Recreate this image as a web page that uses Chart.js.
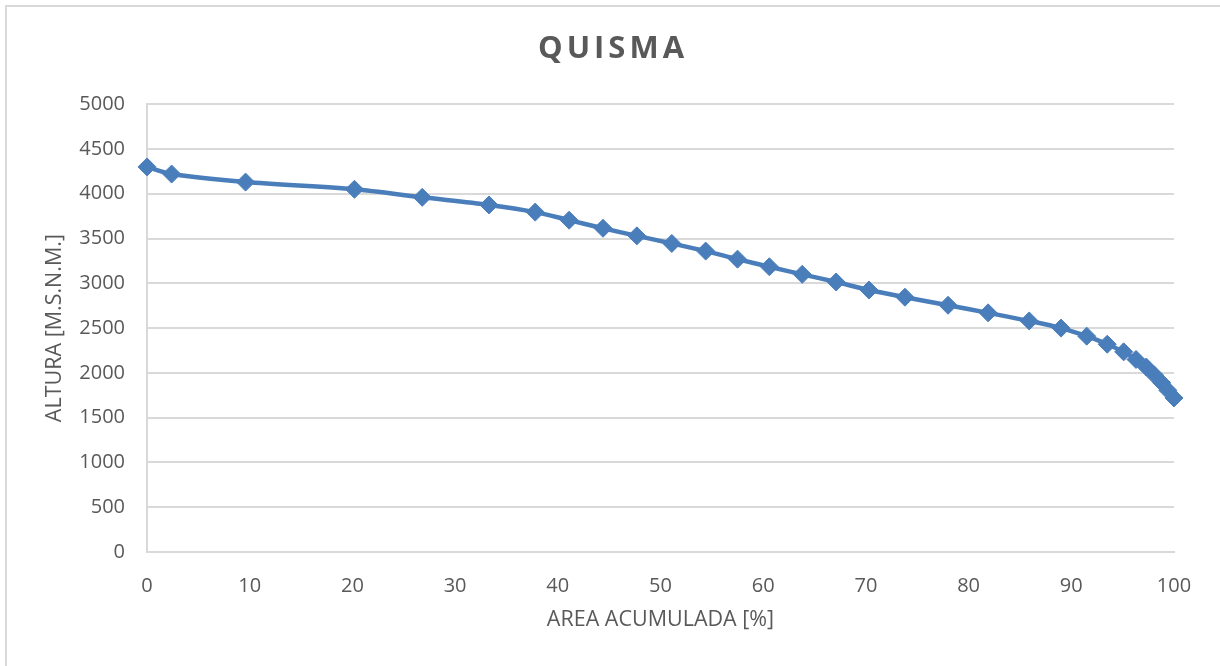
<!DOCTYPE html>
<html lang="es">
<head>
  <meta charset="UTF-8" />
  <title>QUISMA</title>
  <script src="https://cdn.jsdelivr.net/npm/chart.js"></script>
  <style>
    html, body { margin: 0; padding: 0; background: #fff; overflow: hidden; }
    .wrap { position: relative; width: 1220px; height: 666px; }
    .frame {
      position: absolute; left: 5px; top: 5px;
      width: 1240px; height: 700px;
      border: 2px solid #d9d9d9; box-sizing: border-box;
    }
    canvas { position: absolute; left: 0; top: 0; }
  </style>
</head>
<body>
  <div class="wrap">
    <div class="frame"></div>
    <canvas id="curve" width="1220" height="666"></canvas>
  </div>

  <script>
    // area acumulada [%] vs altura [m.s.n.m.]
    const areaAcum = [0, 2.4, 9.6, 20.2, 26.8, 33.3, 37.8, 41.1, 44.4, 47.7, 51.1, 54.4, 57.5,
      60.6, 63.8, 67.1, 70.3, 73.8, 78.0, 81.9, 85.9, 89.0, 91.5, 93.5, 95.1, 96.3, 97.3,
      98.1, 98.8, 99.4, 100];
    const altura = [4300, 4220, 4130, 4050, 3960, 3875, 3795, 3705, 3615, 3530, 3445, 3360, 3270,
      3185, 3100, 3015, 2925, 2845, 2755, 2670, 2580, 2500, 2410, 2320, 2235, 2150, 2065,
      1975, 1890, 1805, 1720];

    const gray = '#595959';
    const gridColor = '#d9d9d9';
    const blue = '#4a7ebb';

    // spaced-out title like the original, centred on the whole picture
    const titleSpacing = {
      id: 'titleSpacing',
      afterInit(chart) {
        const block = chart.titleBlock;
        const orig = block.draw;
        block.draw = function () {
          const ctx = chart.ctx;
          ctx.save();
          ctx.letterSpacing = '4px';
          ctx.translate(26, 0);
          orig.call(this);
          ctx.restore();
        };
      }
    };

    new Chart(document.getElementById('curve'), {
      type: 'line',
      data: {
        datasets: [{
          label: 'Quisma',
          data: areaAcum.map((x, i) => ({ x: x, y: altura[i] })),
          borderColor: blue,
          backgroundColor: blue,
          borderWidth: 4.5,
          pointStyle: 'rectRot',
          pointRadius: 9,
          pointBorderWidth: 1,
          pointBackgroundColor: blue,
          pointBorderColor: blue,
          tension: 0.3,
          fill: false,
          clip: false
        }]
      },
      options: {
        responsive: false,
        animation: false,
        layout: { padding: { left: 0, right: 46, top: 0, bottom: 0 } },
        plugins: {
          legend: { display: false },
          tooltip: { enabled: false },
          title: {
            display: true,
            text: 'QUISMA',
            color: gray,
            font: { family: 'Open Sans', size: 31, weight: 'bold' },
            padding: { top: 31, bottom: 36 }
          }
        },
        scales: {
          x: {
            type: 'linear',
            min: 0,
            max: 100,
            ticks: {
              stepSize: 10,
              color: gray,
              padding: 14,
              font: { family: 'Open Sans', size: 20 }
            },
            grid: { display: false },
            border: { display: true, color: gridColor, width: 2 },
            title: {
              display: true,
              text: 'AREA ACUMULADA [%]',
              color: gray,
              font: { family: 'Open Sans', size: 21.5 },
              padding: { top: 0, bottom: 33 }
            },
            afterFit(scale) { scale.height = 114; }
          },
          y: {
            min: 0,
            max: 5000,
            ticks: {
              stepSize: 500,
              color: gray,
              padding: 22,
              font: { family: 'Open Sans', size: 20 },
              callback: v => String(v)
            },
            grid: { color: gridColor, lineWidth: 2, drawTicks: false },
            border: { display: true, color: gridColor, width: 2 },
            title: {
              display: true,
              text: 'ALTURA [M.S.N.M.]',
              color: gray,
              font: { family: 'Open Sans', size: 21.5 },
              padding: { top: 42, bottom: 0 }
            },
            afterFit(scale) { scale.width = 147; }
          }
        }
      },
      plugins: [titleSpacing]
    });
  </script>
</body>
</html>
